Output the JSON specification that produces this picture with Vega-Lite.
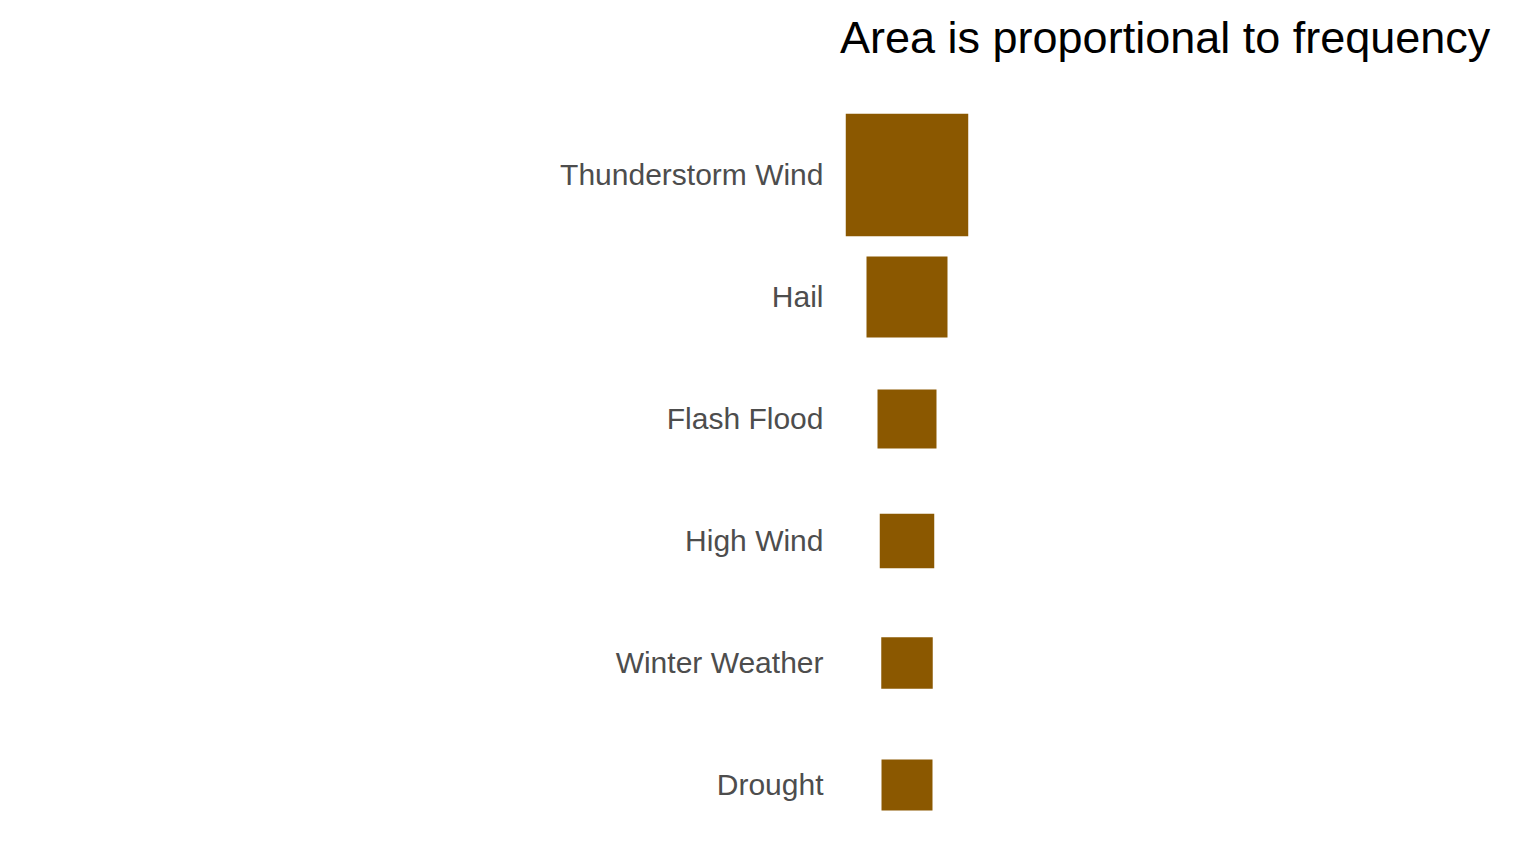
{
  "$schema": "https://vega.github.io/schema/vega-lite/v6.json",
  "autosize": {"type": "none"},
  "padding": {"left": 840, "top": 114, "right": 562, "bottom": 18},
  "width": 134,
  "height": 732,
  "background": "white",
  "title": {
    "text": "Area is proportional to frequency",
    "anchor": "start",
    "frame": "group",
    "font": "Liberation Sans",
    "fontSize": 45,
    "fontWeight": "normal",
    "color": "black",
    "offset": 52
  },
  "data": {
    "values": [
      {"event": "Thunderstorm Wind", "count": 1500},
      {"event": "Hail", "count": 656},
      {"event": "Flash Flood", "count": 348},
      {"event": "High Wind", "count": 297},
      {"event": "Winter Weather", "count": 265},
      {"event": "Drought", "count": 260}
    ]
  },
  "mark": {"type": "point", "shape": "square", "filled": true, "opacity": 1, "color": "#8B5800", "strokeWidth": 0},
  "encoding": {
    "y": {
      "field": "event",
      "type": "nominal",
      "sort": null,
      "scale": {"type": "point", "padding": 0.5},
      "axis": {
        "title": null,
        "domain": false,
        "ticks": false,
        "grid": false,
        "labelFont": "Liberation Sans",
        "labelFontSize": 30,
        "labelColor": "#4D4D4D",
        "labelPadding": 17,
        "labelLimit": 0
      }
    },
    "size": {
      "field": "count",
      "type": "quantitative",
      "scale": {"type": "linear", "domain": [0, 1500], "range": [0, 15000], "zero": true},
      "legend": null
    }
  },
  "config": {"view": {"stroke": null}}
}
